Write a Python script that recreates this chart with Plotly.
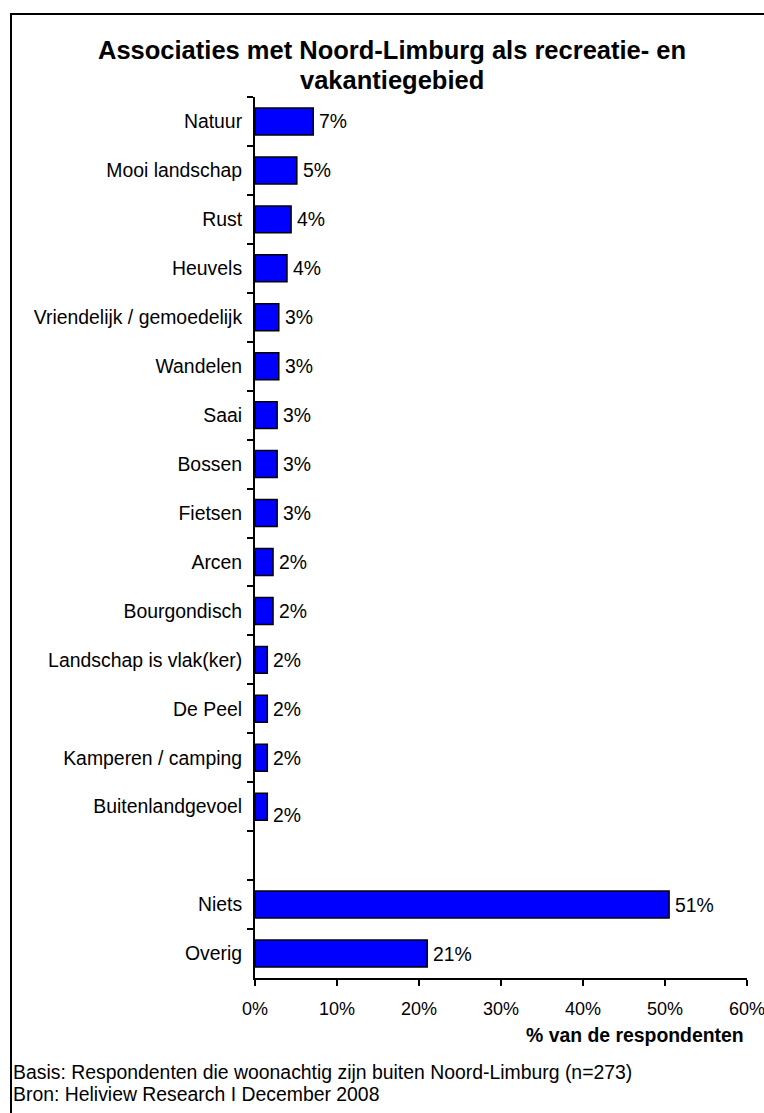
import plotly.graph_objects as go

categories = ["Natuur", "Mooi landschap", "Rust", "Heuvels", "Vriendelijk / gemoedelijk",
              "Wandelen", "Saai", "Bossen", "Fietsen", "Arcen", "Bourgondisch",
              "Landschap is vlak(ker)", "De Peel", "Kamperen / camping", "Buitenlandgevoel",
              " ", "Niets", "Overig"]
values = [7.1, 5.1, 4.4, 3.9, 2.9, 2.9, 2.7, 2.7, 2.7, 2.2, 2.2, 1.5, 1.5, 1.5, 1.5,
          None, 50.5, 21.0]
value_labels = ["7%", "5%", "4%", "4%", "3%", "3%", "3%", "3%", "3%", "2%", "2%",
                "2%", "2%", "2%", "2%", "", "51%", "21%"]
label_yshift = [0]*14 + [-8, 0, 0, 0]
x_ticks = [0, 10, 20, 30, 40, 50, 60]
x_ticklabels = ["0%", "10%", "20%", "30%", "40%", "50%", "60%"]

title_lines = ["Associaties met Noord-Limburg als recreatie- en", "vakantiegebied"]
x_title = "% van de respondenten"
notes = ["Basis: Respondenten die woonachtig zijn buiten Noord-Limburg (n=273)",
         "Bron: Heliview Research I December 2008"]

FONT = "Liberation Sans, Arial, sans-serif"
FS = 19.4
W, H = 764, 1113
L, R, T, B = 255, 17, 97, 135
PW, PH = W - L - R, H - T - B


def px_x(p):
    return (p - L) / PW


def px_y(p):
    return (H - B - p) / PH


fig = go.Figure(go.Bar(
    x=values, y=categories, orientation="h",
    marker=dict(color="#0000FF", line=dict(color="black", width=1.5)),
    hoverinfo="skip",
))

annotations = []
for c, v, t, s in zip(categories, values, value_labels, label_yshift):
    if v is None:
        continue
    annotations.append(dict(x=v, y=c, xref="x", yref="y", text=t, showarrow=False,
                            xanchor="left", xshift=4, yshift=s,
                            font=dict(family=FONT, size=FS, color="black")))

for i, line in enumerate(title_lines):
    annotations.append(dict(x=px_x(392), y=px_y(50 + 30 * i), xref="paper", yref="paper",
                            text="<b>" + line + "</b>", showarrow=False,
                            xanchor="center", yanchor="middle",
                            font=dict(family=FONT, size=25.5, color="black")))
annotations.append(dict(x=px_x(746), y=px_y(1035), xref="paper", yref="paper",
                        text="<b>" + x_title + "</b>", showarrow=False,
                        xanchor="right", yanchor="middle",
                        font=dict(family=FONT, size=FS, color="black")))
for i, n in enumerate(notes):
    annotations.append(dict(x=px_x(11), y=px_y(1072 + 22 * i), xref="paper", yref="paper",
                            text=n, showarrow=False, xanchor="left", yanchor="middle",
                            font=dict(family=FONT, size=FS, color="black")))

fig.update_layout(
    width=W, height=H,
    margin=dict(l=L, r=R, t=T, b=B, pad=0, autoexpand=False),
    paper_bgcolor="white", plot_bgcolor="white",
    showlegend=False, bargap=0.45,
    font=dict(family=FONT, size=FS, color="black"),
    annotations=annotations,
    shapes=[dict(type="rect", xref="paper", yref="paper",
                 x0=px_x(11), x1=px_x(W + 20), y0=px_y(H + 20), y1=px_y(14),
                 line=dict(color="black", width=2), fillcolor="rgba(0,0,0,0)")],
)
fig.update_xaxes(range=[0, 60], tickvals=x_ticks, ticktext=x_ticklabels,
                 showgrid=False, zeroline=False, showline=True, linecolor="black",
                 linewidth=2, ticks="outside", ticklen=6, tickwidth=2, tickcolor="black",
                 tickfont=dict(family=FONT, size=18), ticklabelstandoff=7,
                 ticklabeloverflow="allow", automargin=False, fixedrange=True)
fig.update_yaxes(type="category", categoryorder="array", categoryarray=categories,
                 autorange="reversed", tickson="boundaries",
                 showgrid=False, zeroline=False, showline=True, linecolor="black",
                 linewidth=2, ticks="outside", ticklen=6, tickwidth=2, tickcolor="black",
                 tickfont=dict(family=FONT, size=FS), ticklabelstandoff=7,
                 automargin=False, fixedrange=True)

fig.write_html("out.html")
